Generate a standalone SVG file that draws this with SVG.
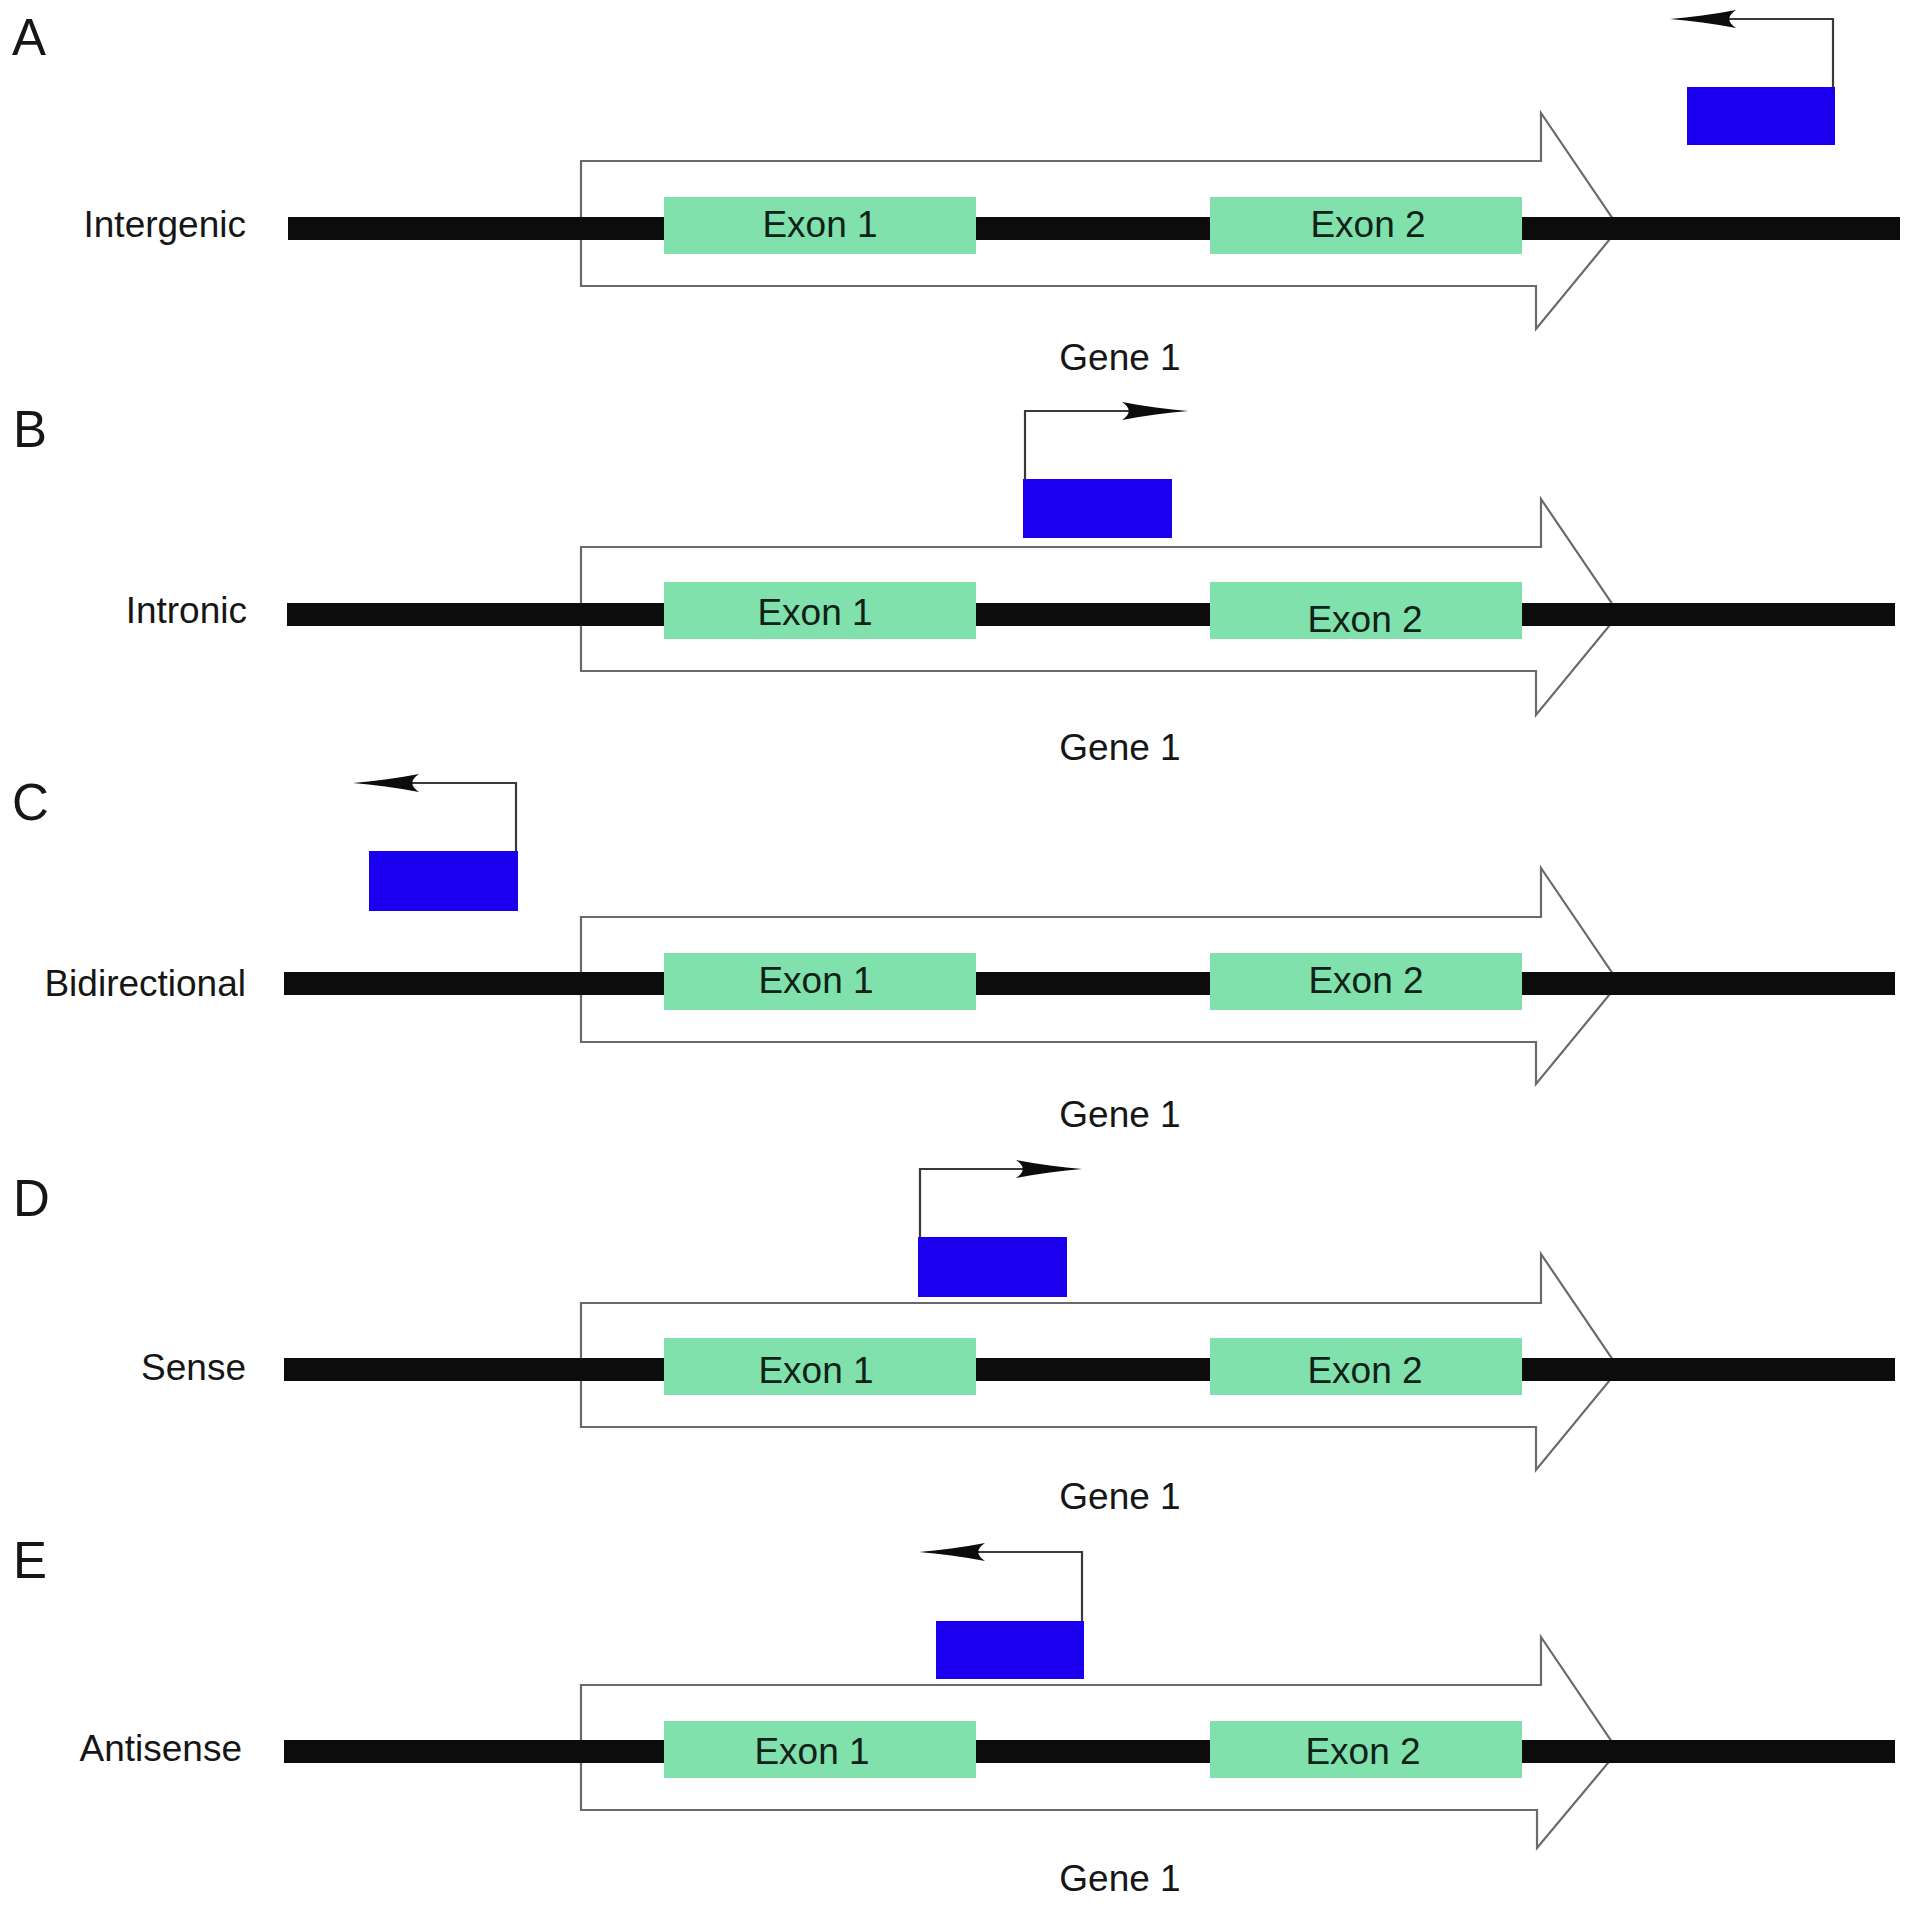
<svg xmlns="http://www.w3.org/2000/svg" width="1913" height="1906" viewBox="0 0 1913 1906">
<style>
text{font-family:"Liberation Sans",Arial,sans-serif;fill:#161616}
.panel{font-size:51px}
.lbl{font-size:37px;text-anchor:end}
.ex{font-size:37px;text-anchor:middle;fill:#0e2218}
.gene{font-size:37px;text-anchor:middle}
.bar{fill:#0c0c0c}
.exon{fill:#80e1ad}
.gbox{fill:#fff;stroke:#6a6a6a;stroke-width:2.2;stroke-linejoin:miter}
.prom{fill:#1a00ef}
.pl{fill:none;stroke:#3a3a3a;stroke-width:2.2}
.ah{fill:#0c0c0c}
</style>
<defs>
<path id="ahL" d="M0,0 C20,-1.5 44,-5 66,-9 C57,-3 57,3 66,9 C44,5 20,1.5 0,0Z"/>
</defs>
<rect width="1913" height="1906" fill="#fff"/>

<!-- Panel A -->
<g id="panelA">
<text class="panel" x="12" y="55">A</text>
<text class="lbl" x="246" y="237">Intergenic</text>
<path class="gbox" d="M581,161 H1541 V113 L1619,228 L1536,329 V286 H581 Z"/>
<rect class="bar" x="288" y="217" width="1612" height="23"/>
<g id="A-exon1"><rect class="exon" x="664" y="197" width="312" height="57"/><text class="ex" x="820" y="237">Exon 1</text></g>
<g id="A-exon2"><rect class="exon" x="1210" y="197" width="312" height="57"/><text class="ex" x="1368" y="237">Exon 2</text></g>
<text class="gene" x="1120" y="370">Gene 1</text>
<g id="A-promoter"><rect class="prom" x="1687" y="87" width="148" height="58"/></g>
</g>

<!-- Panel B -->
<g id="panelB">
<text class="panel" x="13" y="447">B</text>
<text class="lbl" x="247" y="623">Intronic</text>
<path class="gbox" d="M581,547 H1541 V499 L1619,614 L1536,715 V671 H581 Z"/>
<rect class="bar" x="287" y="603" width="1608" height="23"/>
<g id="B-exon1"><rect class="exon" x="664" y="582" width="312" height="57"/><text class="ex" x="815" y="625">Exon 1</text></g>
<g id="B-exon2"><rect class="exon" x="1210" y="582" width="312" height="57"/><text class="ex" x="1365" y="632">Exon 2</text></g>
<text class="gene" x="1120" y="760">Gene 1</text>
<g id="B-promoter"><rect class="prom" x="1023" y="479" width="149" height="59"/></g>
</g>

<!-- Panel C -->
<g id="panelC">
<text class="panel" x="12" y="820">C</text>
<text class="lbl" x="246" y="996">Bidirectional</text>
<path class="gbox" d="M581,917 H1541 V868 L1619,983 L1536,1084 V1042 H581 Z"/>
<rect class="bar" x="284" y="972" width="1611" height="23"/>
<g id="C-exon1"><rect class="exon" x="664" y="953" width="312" height="57"/><text class="ex" x="816" y="993">Exon 1</text></g>
<g id="C-exon2"><rect class="exon" x="1210" y="953" width="312" height="57"/><text class="ex" x="1366" y="993">Exon 2</text></g>
<text class="gene" x="1120" y="1127">Gene 1</text>
<g id="C-promoter"><rect class="prom" x="369" y="851" width="149" height="60"/></g>
</g>

<!-- Panel D -->
<g id="panelD">
<text class="panel" x="13" y="1216">D</text>
<text class="lbl" x="246" y="1380">Sense</text>
<path class="gbox" d="M581,1303 H1541 V1254 L1619,1369 L1536,1470 V1427 H581 Z"/>
<rect class="bar" x="284" y="1358" width="1611" height="23"/>
<g id="D-exon1"><rect class="exon" x="664" y="1338" width="312" height="57"/><text class="ex" x="816" y="1383">Exon 1</text></g>
<g id="D-exon2"><rect class="exon" x="1210" y="1338" width="312" height="57"/><text class="ex" x="1365" y="1383">Exon 2</text></g>
<text class="gene" x="1120" y="1509">Gene 1</text>
<g id="D-promoter"><rect class="prom" x="918" y="1237" width="149" height="60"/></g>
</g>

<!-- Panel E -->
<g id="panelE">
<text class="panel" x="13" y="1578">E</text>
<text class="lbl" x="242" y="1761">Antisense</text>
<path class="gbox" d="M581,1685 H1541 V1637 L1618,1751 L1537,1848 V1810 H581 Z"/>
<rect class="bar" x="284" y="1740" width="1611" height="23"/>
<g id="E-exon1"><rect class="exon" x="664" y="1721" width="312" height="57"/><text class="ex" x="812" y="1764">Exon 1</text></g>
<g id="E-exon2"><rect class="exon" x="1210" y="1721" width="312" height="57"/><text class="ex" x="1363" y="1764">Exon 2</text></g>
<text class="gene" x="1120" y="1891">Gene 1</text>
<g id="E-promoter"><rect class="prom" x="936" y="1621" width="148" height="58"/></g>
</g>

<!-- Connectors: transcription start arrows -->
<g id="connectors">
<path class="pl" d="M1833,87 V19 H1700"/>
<use href="#ahL" class="ah" transform="translate(1670,19)"/>
<path class="pl" d="M1025,479 V411 H1160"/>
<use href="#ahL" class="ah" transform="translate(1188,411) scale(-1,1)"/>
<path class="pl" d="M516,851 V783 H383"/>
<use href="#ahL" class="ah" transform="translate(353,783)"/>
<path class="pl" d="M920,1237 V1169 H1055"/>
<use href="#ahL" class="ah" transform="translate(1082,1169) scale(-1,1)"/>
<path class="pl" d="M1082,1621 V1552 H950"/>
<use href="#ahL" class="ah" transform="translate(919,1552)"/>
</g>
</svg>
